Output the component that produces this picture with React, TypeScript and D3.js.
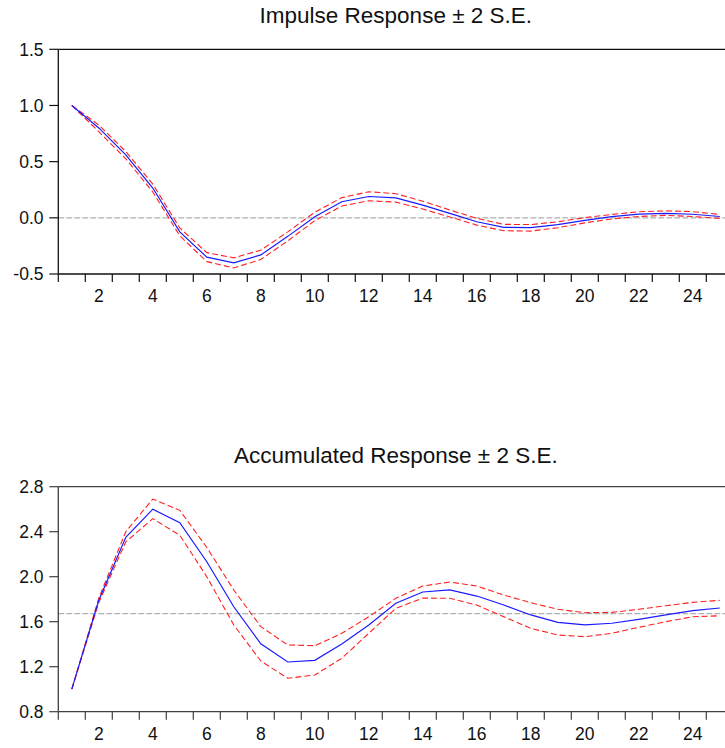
import React from "react";
import * as d3 from "d3";

const periods = d3.range(1, 26);

const impulse = [1.0, 0.8, 0.56, 0.265, -0.125, -0.35, -0.4, -0.33, -0.165, 0.01, 0.143, 0.19, 0.178, 0.113, 0.04, -0.035, -0.085, -0.088, -0.06, -0.022, 0.01, 0.033, 0.039, 0.032, 0.012];
const impulseUpper = [1.0, 0.826, 0.59, 0.3, -0.09, -0.31, -0.356, -0.288, -0.125, 0.05, 0.18, 0.232, 0.215, 0.148, 0.07, -0.005, -0.058, -0.06, -0.035, 0.002, 0.03, 0.054, 0.062, 0.055, 0.03];
const impulseLower = [1.0, 0.767, 0.525, 0.23, -0.16, -0.39, -0.446, -0.371, -0.205, -0.025, 0.105, 0.152, 0.14, 0.078, 0.008, -0.065, -0.115, -0.118, -0.088, -0.045, -0.01, 0.012, 0.022, 0.012, -0.005];

const accum = [1.0, 1.79, 2.35, 2.6, 2.48, 2.133, 1.733, 1.404, 1.242, 1.257, 1.402, 1.57, 1.764, 1.864, 1.882, 1.828, 1.748, 1.66, 1.594, 1.571, 1.586, 1.621, 1.66, 1.698, 1.722];
const accumUpper = [1.0, 1.81, 2.4, 2.69, 2.59, 2.26, 1.882, 1.556, 1.393, 1.387, 1.497, 1.644, 1.808, 1.917, 1.953, 1.917, 1.837, 1.769, 1.71, 1.68, 1.683, 1.71, 1.742, 1.772, 1.79];
const accumLower = [1.0, 1.77, 2.31, 2.516, 2.368, 2.0, 1.571, 1.251, 1.097, 1.126, 1.275, 1.497, 1.719, 1.81, 1.808, 1.748, 1.644, 1.541, 1.482, 1.467, 1.497, 1.55, 1.6, 1.644, 1.653];

const impulseTicks = [1.5, 1.0, 0.5, 0.0, -0.5];
const accumTicks = [2.8, 2.4, 2.0, 1.6, 1.2, 0.8];
const xLabels = [2, 4, 6, 8, 10, 12, 14, 16, 18, 20, 22, 24];

const impulseRef = 0.0;
const accumRef = 1.671;

const FONT = "Liberation Sans, Arial, sans-serif";

type PanelProps = {
  title: string;
  titleY: number;
  top: number;
  bottom: number;
  domain: [number, number];
  ticks: number[];
  center: number[];
  upper: number[];
  lower: number[];
  refValue: number;
  frameColor: string;
};

function Panel(p: PanelProps) {
  const left = 58.3;
  const right = 733.3;
  const x = d3.scaleLinear().domain([0.5, 25.5]).range([left, right]);
  const y = d3.scaleLinear().domain(p.domain).range([p.bottom, p.top]);
  const line = d3
    .line<number>()
    .x((_, i) => x(periods[i]))
    .y((d) => y(d));
  const boundaries = d3.range(0, 26).map((k) => k + 0.5);
  return (
    <g>
      <text
        x={(left + right) / 2}
        y={p.titleY}
        textAnchor="middle"
        fontFamily={FONT}
        fontSize={22.5}
        fill="#111"
      >
        {p.title}
      </text>
      <line
        x1={x(0.5)}
        x2={x(25.5)}
        y1={y(p.refValue)}
        y2={y(p.refValue)}
        stroke="#b0b0b0"
        strokeWidth={1.3}
        strokeDasharray="6,2"
      />
      <path d={line(p.upper) || ""} fill="none" stroke="#ff2020" strokeWidth={1.1} strokeDasharray="6,3" />
      <path d={line(p.lower) || ""} fill="none" stroke="#ff2020" strokeWidth={1.1} strokeDasharray="6,3" />
      <path d={line(p.center) || ""} fill="none" stroke="#1a1aff" strokeWidth={1.2} />
      <line x1={left} x2={right} y1={p.top} y2={p.top} stroke={p.frameColor} strokeWidth={1.3} />
      <line x1={left} x2={left} y1={p.top} y2={p.bottom} stroke={p.frameColor} strokeWidth={1.3} />
      <line x1={left} x2={right} y1={p.bottom} y2={p.bottom} stroke={p.frameColor} strokeWidth={1.3} />
      {p.ticks.map((t) => (
        <g key={t}>
          <line x1={left - 9} x2={left} y1={y(t)} y2={y(t)} stroke={p.frameColor} strokeWidth={1.2} />
          <text
            x={43.5}
            y={y(t)}
            dy="0.36em"
            textAnchor="end"
            fontFamily={FONT}
            fontSize={17.5}
            fill="#111"
          >
            {t.toFixed(1)}
          </text>
        </g>
      ))}
      {boundaries.map((b) => (
        <line key={b} x1={x(b)} x2={x(b)} y1={p.bottom} y2={p.bottom + 8} stroke={p.frameColor} strokeWidth={1.2} />
      ))}
      {xLabels.map((l) => (
        <text
          key={l}
          x={x(l)}
          y={p.bottom + 28}
          textAnchor="middle"
          fontFamily={FONT}
          fontSize={17.5}
          fill="#111"
        >
          {l}
        </text>
      ))}
    </g>
  );
}

export default function App() {
  return (
    <svg
      width={725}
      height={748}
      style={{ position: "absolute", left: 0, top: 0, background: "#fff" }}
    >
      <rect x={0} y={0} width={725} height={748} fill="#fff" />
      <Panel
        title="Impulse Response ± 2 S.E."
        titleY={23}
        top={49.3}
        bottom={274}
        domain={[-0.5, 1.5]}
        ticks={impulseTicks}
        center={impulse}
        upper={impulseUpper}
        lower={impulseLower}
        refValue={impulseRef}
        frameColor="#111"
      />
      <Panel
        title="Accumulated Response ± 2 S.E."
        titleY={462.7}
        top={486.7}
        bottom={711.7}
        domain={[0.8, 2.8]}
        ticks={accumTicks}
        center={accum}
        upper={accumUpper}
        lower={accumLower}
        refValue={accumRef}
        frameColor="#404040"
      />
    </svg>
  );
}
